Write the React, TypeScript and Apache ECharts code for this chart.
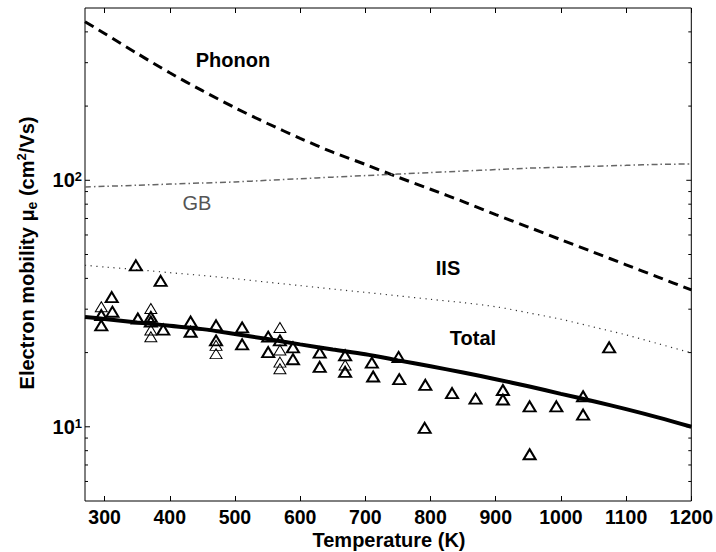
import React, { useEffect, useRef } from "react";
import * as echarts from "echarts";

// Model curves (Temperature K -> mobility cm^2/Vs)
const temps = [270, 300, 350, 400, 450, 500, 550, 600, 650, 700, 750, 800, 850, 900, 950, 1000, 1050, 1100, 1150, 1200];
const phonon = [440, 394, 327, 273, 231, 197, 170, 148, 130, 116, 103, 92, 82, 72.6, 64.6, 57.4, 51.1, 45.4, 40.4, 35.9];
const gb = [94, 94.5, 95.5, 96.5, 97.5, 98.5, 100, 101.5, 103, 104.5, 106, 107.5, 109, 110.5, 112, 113, 114, 115, 116, 116.5];
const iis = [45.2, 44.5, 43.4, 42.2, 41.1, 39.9, 38.6, 37.4, 36.2, 35.1, 34, 32.9, 31.9, 30.7, 29.0, 27.3, 25.4, 23.6, 21.7, 19.95];
const total = [27.9, 27.4, 26.5, 25.7, 24.9, 23.8, 22.7, 21.6, 20.6, 19.7, 18.6, 17.6, 16.6, 15.6, 14.6, 13.6, 12.7, 11.8, 10.9, 10];

// Measured points (bold triangles)
const boldT = [348, 386, 311, 295, 295, 312, 351, 371, 371, 390, 432, 432, 471, 471, 511, 511, 551, 551, 569, 589, 589, 630, 630, 669, 669, 710, 712, 751, 752, 792, 791, 833, 869, 911, 911, 952, 952, 993, 1034, 1034, 1074];
const boldMu = [45.2, 39.1, 33.6, 28.4, 25.8, 29.3, 27.5, 27.9, 26.7, 24.8, 26.7, 24.3, 25.8, 22.4, 25.3, 21.6, 23.2, 20.1, 22.4, 21, 18.8, 20, 17.5, 19.5, 16.7, 18.2, 16.0, 19.2, 15.6, 14.8, 9.9, 13.7, 13.0, 14.1, 12.9, 12.1, 7.74, 12.1, 13.3, 11.2, 21.0];
// Measured points (thin triangles)
const thinT = [295, 371, 371, 371, 471, 471, 569, 569, 569, 569, 669];
const thinMu = [30.7, 30.2, 24.7, 23.2, 21.4, 19.8, 25.3, 20.5, 18.3, 17.2, 17.8];

const xTicks = [300, 400, 500, 600, 700, 800, 900, 1000, 1100, 1200];
const yMajor = [10, 100];
const yMinor = [6, 7, 8, 9, 20, 30, 40, 50, 60, 70, 80, 90, 200, 300, 400];

const FONT = "Liberation Sans";

export default function App() {
  const ref = useRef<HTMLDivElement>(null);
  useEffect(() => {
    const chart = echarts.init(ref.current!, null, { renderer: "svg" });
    const yTickData = [
      ...yMajor.map((v) => [270, v, 1]),
      ...yMinor.map((v) => [270, v, 0]),
    ];
    const pair = (xs: number[], ys: number[]) => xs.map((x, i) => [x, ys[i]]);
    chart.setOption({
      animation: false,
      backgroundColor: "#fff",
      grid: {
        left: 85, right: 24, top: 8, bottom: 51,
        show: true, borderColor: "#000", borderWidth: 1, backgroundColor: "transparent",
      },
      xAxis: [
        {
          type: "value", min: 270, max: 1200, position: "bottom",
          axisLine: { show: false }, splitLine: { show: false },
          axisTick: { show: true, inside: true, length: 5, customValues: xTicks, lineStyle: { color: "#000" } },
          axisLabel: {
            customValues: xTicks, margin: 6, fontSize: 19.5, fontWeight: "bold", color: "#000", fontFamily: FONT,
            formatter: (v: number) => String(Math.round(v)),
          },
        },
        {
          type: "value", min: 270, max: 1200, position: "top",
          axisLine: { show: false }, splitLine: { show: false },
          axisTick: { show: true, inside: true, length: 5, customValues: xTicks, lineStyle: { color: "#000" } },
          axisLabel: { show: false },
        },
      ],
      yAxis: {
        type: "log", logBase: 10, min: 5, max: 500,
        axisLine: { show: false }, axisTick: { show: false }, splitLine: { show: false },
        axisLabel: {
          margin: 3,
          formatter: (v: number) => {
            if (Math.abs(v - 10) < 1e-6) return "{b|10}{s|1}";
            if (Math.abs(v - 100) < 1e-6) return "{b|10}{s|2}";
            return "";
          },
          rich: {
            b: { fontSize: 20, fontWeight: "bold", fontFamily: FONT, color: "#000", lineHeight: 20, padding: [6, 0, 0, 0], verticalAlign: "bottom" },
            s: { fontSize: 13, fontWeight: "bold", fontFamily: FONT, color: "#000", lineHeight: 20, verticalAlign: "top" },
          },
        },
      },
      graphic: [
        { type: "text", x: 233, y: 60, style: { text: "Phonon", fontSize: 20, fontWeight: "bold", fontFamily: FONT, fill: "#000", align: "center", verticalAlign: "middle" } },
        { type: "text", x: 197, y: 203, style: { text: "GB", fontSize: 20, fontWeight: "normal", fontFamily: FONT, fill: "#555", align: "center", verticalAlign: "middle" } },
        { type: "text", x: 448, y: 268, style: { text: "IIS", fontSize: 20, fontWeight: "bold", fontFamily: FONT, fill: "#000", align: "center", verticalAlign: "middle" } },
        { type: "text", x: 473, y: 338, style: { text: "Total", fontSize: 20, fontWeight: "bold", fontFamily: FONT, fill: "#000", align: "center", verticalAlign: "middle" } },
        { type: "text", x: 389, y: 540, style: { text: "Temperature (K)", fontSize: 20, fontWeight: "bold", fontFamily: FONT, fill: "#000", align: "center", verticalAlign: "middle" } },
        {
          type: "text", x: 27, y: 253, rotation: Math.PI / 2,
          style: {
            text: "{b|Electron mobility μ}{sub|e}{b| (cm}{sup|2}{b|/Vs)}",
            align: "center", verticalAlign: "middle",
            rich: {
              b: { fontSize: 20, fontWeight: "bold", fontFamily: FONT, fill: "#000", lineHeight: 24, verticalAlign: "middle" },
              sub: { fontSize: 14, fontWeight: "bold", fontFamily: FONT, fill: "#000", lineHeight: 12, verticalAlign: "bottom" },
              sup: { fontSize: 13, fontWeight: "bold", fontFamily: FONT, fill: "#000", lineHeight: 14, verticalAlign: "top" },
            },
          },
        },
      ],
      series: [
        {
          type: "custom", data: yTickData, encode: { x: 0, y: 1 }, silent: true, clip: false, z: 10,
          renderItem: (params: any, api: any) => {
            const p = api.coord([api.value(0), api.value(1)]);
            const cs = params.coordSys;
            const len = api.value(2) ? 5 : 3;
            return {
              type: "group",
              children: [
                { type: "line", shape: { x1: cs.x, y1: p[1], x2: cs.x + len, y2: p[1] }, style: { stroke: "#000", lineWidth: 1 } },
                { type: "line", shape: { x1: cs.x + cs.width - len, y1: p[1], x2: cs.x + cs.width, y2: p[1] }, style: { stroke: "#000", lineWidth: 1 } },
              ],
            };
          },
        },
        { type: "line", data: pair(temps, phonon), symbol: "none", smooth: 0.3, lineStyle: { color: "#000", width: 3, type: [10, 6] }, z: 3 },
        { type: "line", data: pair(temps, gb), symbol: "none", smooth: 0.3, lineStyle: { color: "#666", width: 1.5, type: [6, 3, 1.5, 3] }, z: 3 },
        { type: "line", data: pair(temps, iis), symbol: "none", smooth: 0.3, lineStyle: { color: "#333", width: 1.2, type: [1.2, 4.5] }, z: 3 },
        { type: "line", data: pair(temps, total), symbol: "none", smooth: 0.3, lineStyle: { color: "#000", width: 4 }, z: 4 },
        {
          type: "scatter", data: pair(boldT, boldMu), symbol: "triangle", symbolSize: [12, 10],
          itemStyle: { color: "rgba(0,0,0,0)", borderColor: "#000", borderWidth: 2, opacity: 1 }, z: 5,
        },
        {
          type: "scatter", data: pair(thinT, thinMu), symbol: "triangle", symbolSize: [12, 10],
          itemStyle: { color: "rgba(0,0,0,0)", borderColor: "#000", borderWidth: 1, opacity: 1 }, z: 5,
        },
      ],
    });
    return () => chart.dispose();
  }, []);
  return <div ref={ref} style={{ position: "absolute", left: 0, top: 0, width: 716, height: 552, background: "#fff" }} />;
}
